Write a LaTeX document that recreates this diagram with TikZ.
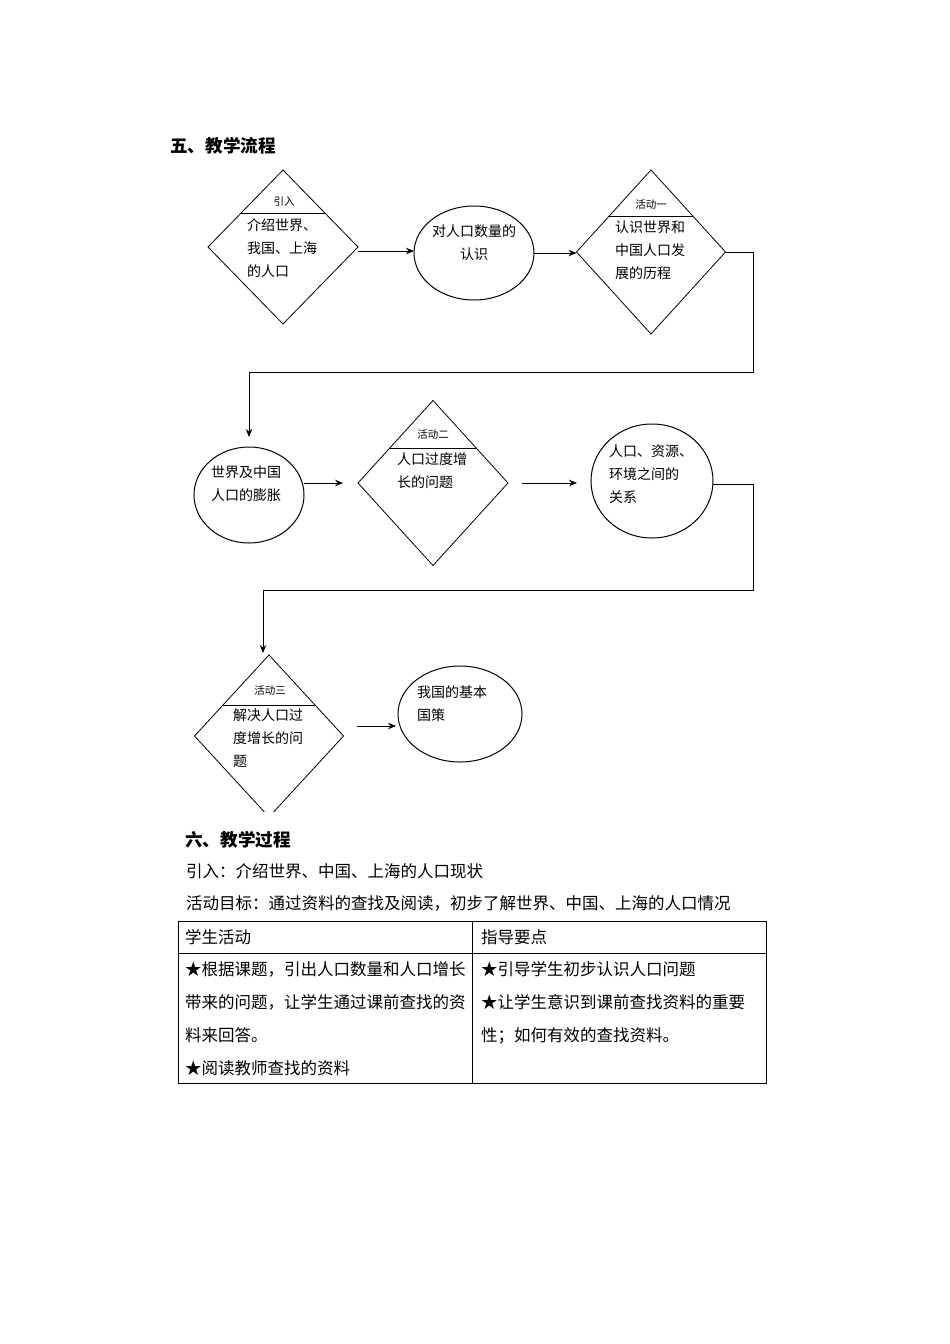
\documentclass[tikz,border=0pt]{standalone}
\usepackage{fontspec}
\newfontfamily\cjk{Noto Sans CJK SC}
\usetikzlibrary{shapes.geometric,arrows.meta,calc}
\tikzset{
  dia/.style={draw, shape=diamond, line width=0.8pt, inner sep=0pt, outer sep=0pt},
  ell/.style={draw, shape=ellipse, line width=1pt, inner sep=0pt, outer sep=0pt},
  arr/.style={line width=1pt, -{Stealth[length=8pt,width=6.5pt]}},
  lbl/.style={inner sep=0pt, font=\cjk\fontsize{10.5}{12}\selectfont},
  txt/.style={anchor=north west, inner sep=0pt, align=left, font=\cjk\fontsize{14}{23}\selectfont},
  ctxt/.style={anchor=north, inner sep=0pt, align=center, font=\cjk\fontsize{14}{23}\selectfont},
  ttl/.style={anchor=north west, inner sep=0pt, font=\cjk\bfseries\fontsize{17.6}{20}\selectfont},
  body/.style={anchor=north west, inner sep=0pt, align=left, font=\cjk\fontsize{16.5}{33}\selectfont},
}
\begin{document}
\begin{tikzpicture}[x=1pt,y=-1pt]
\useasboundingbox (0,0) rectangle (950,1344);
\fill[white] (0,0) rectangle (950,1344);

% section title
\node[ttl] (t1) at (170,137.5) {五、教学流程};

% row 1
\node[dia, minimum width=150pt, minimum height=154pt] (d1) at (283,247) {};
\draw[line width=0.9pt] ($(d1.north)!0.57!(d1.west)$) -- ($(d1.north)!0.57!(d1.east)$);
\node[lbl] (l1) at (284,202) {引入};
\node[txt] (x1) at (247,218) {介绍世界、\\我国、上海\\的人口};

\node[ell, minimum width=120pt, minimum height=94pt] (e1) at (474,253) {};
\node[ctxt] (x2) at (474,224) {对人口数量的\\认识};

\node[dia, minimum width=149pt, minimum height=164pt] (d2) at (651,252) {};
\draw[line width=0.9pt] ($(d2.north)!0.57!(d2.west)$) -- ($(d2.north)!0.57!(d2.east)$);
\node[lbl] (l2) at (651,205) {活动一};
\node[txt] (x3) at (615,221) {认识世界和\\中国人口发\\展的历程};

% row 2
\node[ell, minimum width=110pt, minimum height=96pt] (e2) at (249,495) {};
\node[txt] (x4) at (211,466) {世界及中国\\人口的膨胀};

\node[dia, minimum width=150pt, minimum height=165pt] (d3) at (433,483) {};
\draw[line width=0.9pt] ($(d3.north)!0.58!(d3.west)$) -- ($(d3.north)!0.58!(d3.east)$);
\node[lbl] (l3) at (433,435) {活动二};
\node[txt] (x5) at (397,452) {人口过度增\\长的问题};

\node[ell, minimum width=122pt, minimum height=114pt] (e3) at (652,481) {};
\node[txt] (x6) at (609,445) {人口、资源、\\环境之间的\\关系};

% row 3
\begin{scope}
\clip (0,0) rectangle (950,811);
\node[dia, minimum width=149pt, minimum height=162pt] (d4) at (269,736) {};
\end{scope}
\draw[line width=0.9pt] ($(d4.north)!0.62!(d4.west)$) -- ($(d4.north)!0.62!(d4.east)$);
\node[lbl] (l4) at (270,691) {活动三};
\node[txt] (x7) at (233,709) {解决人口过\\度增长的问\\题};

\node[ell, minimum width=124pt, minimum height=96pt] (e4) at (460,714) {};
\node[txt] (x8) at (417,685) {我国的基本\\国策};

% connectors
\coordinate (r1) at (753,372);
\coordinate (r2) at (753,590);
\coordinate (t4) at (263,653);
\draw[arr] ([yshift=-4pt]d1.east) -- ([yshift=-4pt]d1.east -| e1.west);
\draw[arr] (e1.east) -- (e1.east -| d2.west);
\draw[arr, shorten >=10pt] (d2.east) -| (r1) -| (e2.north);
\draw[arr, shorten >=15pt] (d3.west -| e2.east) -- (d3.west);
\draw[arr, shorten <=14pt, shorten >=14pt] (d3.east) -- (d3.east -| e3.west);
\draw[arr] ([yshift=-3pt]e3.east) -| (r2) -| (t4);
\draw[arr, shorten <=13pt, shorten >=2pt] ([yshift=10pt]d4.east) -- ([yshift=10pt]d4.east -| e4.west);

% section 6
\node[ttl] (t2) at (185,831.5) {六、教学过程};
\node[body] (b1) at (186,863.75) {引入：介绍世界、中国、上海的人口现状};
\node[body] (b2) at (186,895.75) {活动目标：通过资料的查找及阅读，初步了解世界、中国、上海的人口情况};

\draw[line width=0.8pt] (178,921) rectangle (766,1083);
\draw[line width=0.8pt] (472,921) -- (472,1083);
\draw[line width=0.8pt] (178,953) -- (766,953);
\node[body] (h1) at (185,929.75) {学生活动};
\node[body] (h2) at (481,929.75) {指导要点};
\node[body] (c1) at (185,961.75) {★根据课题，引出人口数量和人口增长\\带来的问题，让学生通过课前查找的资\\料来回答。\\★阅读教师查找的资料};
\node[body] (c2) at (481,961.75) {★引导学生初步认识人口问题\\★让学生意识到课前查找资料的重要\\性；如何有效的查找资料。};
\end{tikzpicture}
\end{document}
